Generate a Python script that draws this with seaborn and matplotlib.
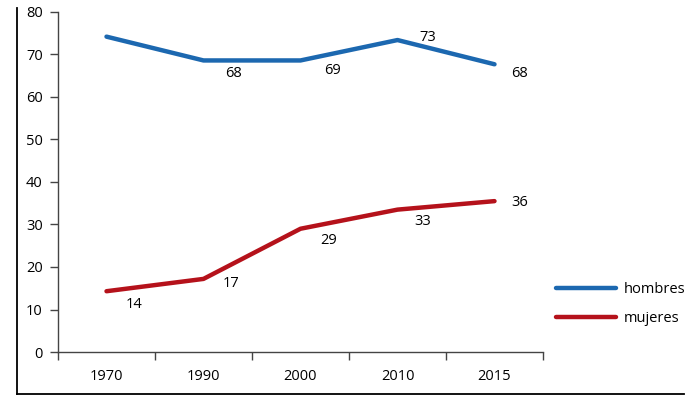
import pandas as pd
import numpy as np
import matplotlib
matplotlib.use('Agg')
import matplotlib.pyplot as plt
import seaborn as sns

sns.set_style('ticks')
plt.rcParams['font.family'] = ['Open Sans', 'DejaVu Sans']
plt.rcParams['text.color'] = 'black'
plt.rcParams['xtick.color'] = 'black'
plt.rcParams['ytick.color'] = 'black'

years = ['1970', '1990', '2000', '2010', '2015']
hombres = [74.2, 68.6, 68.6, 73.4, 67.7]
mujeres = [14.3, 17.2, 29.0, 33.5, 35.5]
hombres_lab = ['', '68', '69', '73', '68']
mujeres_lab = ['14', '17', '29', '33', '36']
series = ['hombres', 'mujeres']
colores = ['#1c68b0', '#b5121b']

df = pd.DataFrame({
    'pos': list(range(len(years))) * 2,
    'valor': hombres + mujeres,
    'sexo': ['hombres'] * len(years) + ['mujeres'] * len(years),
})

W, H = 700, 408
fig = plt.figure(figsize=(W / 100, H / 100), dpi=100)

# outer frame (left + bottom lines)
frame = fig.add_axes([17 / W, (H - 394) / H, (684 - 17) / W, (394 - 8) / H])
frame.set_xticks([])
frame.set_yticks([])
frame.patch.set_alpha(0)
for s in ['top', 'right']:
    frame.spines[s].set_visible(False)
for s in ['left', 'bottom']:
    frame.spines[s].set_linewidth(1.3)
    frame.spines[s].set_color('black')

ax = fig.add_axes([58 / W, (H - 352) / H, (543 - 58) / W, (352 - 12) / H])
ax.patch.set_alpha(0)
sns.lineplot(data=df, x='pos', y='valor', hue='sexo', palette=dict(zip(series, colores)),
             linewidth=3.2, ax=ax, legend=True)

fs = 10.5
offs_h = [(0, 0), (30, -13), (32, -10), (30, 3), (25, -9)]
offs_m = [(28, -13), (28, -5), (28, -12), (25, -12), (25, -1)]
for i in range(len(years)):
    if hombres_lab[i]:
        ax.annotate(hombres_lab[i], (i, hombres[i]), xytext=offs_h[i], textcoords='offset pixels',
                    ha='center', va='center', fontsize=fs)
    ax.annotate(mujeres_lab[i], (i, mujeres[i]), xytext=offs_m[i], textcoords='offset pixels',
                ha='center', va='center', fontsize=fs)

ax.set_xlim(-0.5, len(years) - 0.5)
ax.set_ylim(0, 80)
ax.set_yticks(range(0, 81, 10))
ax.set_xticks(range(len(years)))
ax.set_xticklabels(years)
ax.set_xticks(np.arange(-0.5, len(years), 1), minor=True)
ax.tick_params(axis='x', which='major', length=0, pad=12, labelsize=fs)
ax.tick_params(axis='x', which='minor', length=6, width=1, direction='out', color='#444444')
ax.tick_params(axis='y', length=6, width=1, pad=5, labelsize=fs, color='#444444')
ax.set_xlabel('')
ax.set_ylabel('')
for s in ['top', 'right']:
    ax.spines[s].set_visible(False)
for s in ['left', 'bottom']:
    ax.spines[s].set_color('#444444')
    ax.spines[s].set_linewidth(1)

ax.get_legend().remove()
handles, labels = ax.get_legend_handles_labels()
fig.legend(handles, labels, loc='upper left', bbox_to_anchor=(549 / W, 1 - 275 / H),
           frameon=False, borderpad=0, handlelength=4.1, handletextpad=0.55,
           labelspacing=0.95, fontsize=fs)

fig.savefig('out.png', dpi=100)
